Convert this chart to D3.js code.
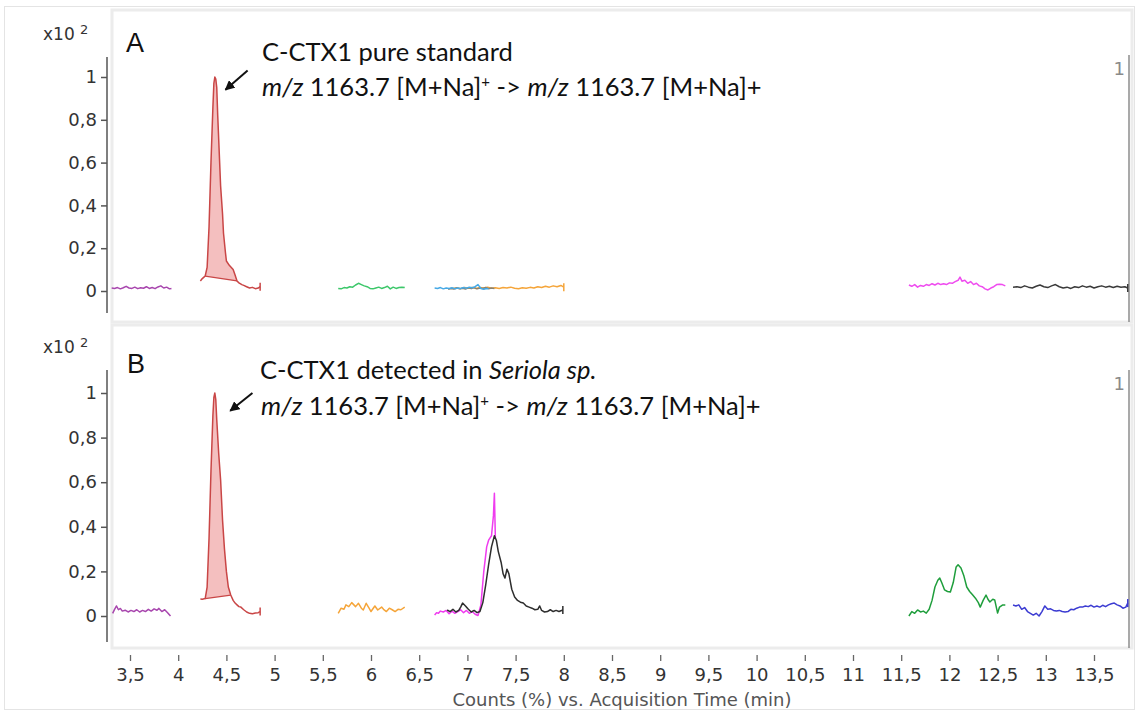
<!DOCTYPE html>
<html>
<head>
<meta charset="utf-8">
<script src="https://cdn.jsdelivr.net/npm/d3@7"></script>
<style>
	html, body { margin: 0; padding: 0; background: #fff; }
	svg { display: block; }
</style>
</head>
<body>
<svg id="chart" width="1138" height="713"></svg>
<script>
// Chromatogram traces, [retention time (min), counts (x10^2)]

// Panel A: C-CTX1 pure standard
const a_purple = [[3.31,0.014],[3.34,0.012],[3.37,0.016],[3.40,0.010],[3.43,0.015],[3.46,0.022],[3.49,0.014],[3.52,0.012],[3.55,0.018],[3.58,0.011],[3.61,0.015],[3.64,0.013],[3.67,0.020],[3.70,0.012],[3.73,0.016],[3.76,0.011],[3.79,0.019],[3.82,0.024],[3.85,0.014],[3.88,0.018],[3.91,0.010],[3.93,0.012]]
const a_red = [[4.23,0.047],[4.25,0.058],[4.27,0.066],[4.28,0.07],[4.30,0.11],[4.32,0.30],[4.34,0.60],[4.36,0.86],[4.37,0.97],[4.38,1.0],[4.39,0.99],[4.40,0.95],[4.41,0.82],[4.43,0.60],[4.44,0.49],[4.46,0.36],[4.47,0.27],[4.49,0.18],[4.50,0.14],[4.53,0.12],[4.57,0.10],[4.59,0.075],[4.61,0.047],[4.63,0.038],[4.66,0.030],[4.68,0.026],[4.71,0.020],[4.74,0.014],[4.77,0.017],[4.80,0.011],[4.83,0.014],[4.85,0.020]]
const a_green = [[5.66,0.012],[5.69,0.010],[5.72,0.016],[5.75,0.014],[5.78,0.020],[5.81,0.018],[5.84,0.028],[5.87,0.036],[5.90,0.030],[5.93,0.024],[5.96,0.020],[5.99,0.012],[6.02,0.010],[6.05,0.014],[6.08,0.018],[6.11,0.012],[6.14,0.016],[6.17,0.022],[6.20,0.010],[6.23,0.018],[6.26,0.012],[6.29,0.016],[6.32,0.018],[6.35,0.016]]
const a_orange = [[6.85,0.012],[6.89,0.015],[6.93,0.011],[6.97,0.016],[7.01,0.013],[7.05,0.017],[7.09,0.012],[7.13,0.016],[7.17,0.014],[7.21,0.018],[7.25,0.013],[7.29,0.015],[7.33,0.012],[7.37,0.016],[7.41,0.014],[7.45,0.018],[7.49,0.013],[7.53,0.011],[7.57,0.015],[7.61,0.013],[7.65,0.017],[7.69,0.014],[7.73,0.020],[7.77,0.016],[7.81,0.022],[7.85,0.018],[7.89,0.024],[7.93,0.020],[7.97,0.026],[8.0,0.018]]
const a_grey = [[6.80,0.008],[6.83,0.012],[6.86,0.009],[6.89,0.014],[6.92,0.010],[6.95,0.013],[6.98,0.009],[7.01,0.015],[7.04,0.011],[7.07,0.016],[7.10,0.010],[7.13,0.014],[7.16,0.012],[7.19,0.016],[7.22,0.011],[7.25,0.014],[7.28,0.012]]
const a_blue = [[6.66,0.014],[6.69,0.012],[6.72,0.016],[6.75,0.010],[6.78,0.014],[6.81,0.012],[6.84,0.015],[6.87,0.011],[6.90,0.014],[6.93,0.012],[6.96,0.016],[6.99,0.013],[7.02,0.018],[7.05,0.015],[7.08,0.020],[7.11,0.030],[7.14,0.012],[7.17,0.008],[7.20,0.012],[7.22,0.010]]
const a_magenta = [[11.58,0.028],[11.61,0.022],[11.64,0.030],[11.67,0.018],[11.70,0.026],[11.73,0.022],[11.76,0.030],[11.79,0.026],[11.82,0.034],[11.85,0.028],[11.88,0.036],[11.91,0.030],[11.94,0.034],[11.97,0.030],[12.00,0.038],[12.03,0.036],[12.06,0.044],[12.09,0.050],[12.11,0.065],[12.13,0.046],[12.16,0.050],[12.19,0.036],[12.22,0.044],[12.25,0.030],[12.28,0.036],[12.31,0.024],[12.34,0.020],[12.37,0.010],[12.40,0.005],[12.43,0.014],[12.46,0.020],[12.49,0.030],[12.52,0.032],[12.55,0.030],[12.58,0.024]]
const a_black = [[12.66,0.018],[12.70,0.020],[12.74,0.016],[12.78,0.024],[12.82,0.018],[12.86,0.014],[12.90,0.022],[12.94,0.028],[12.98,0.020],[13.02,0.016],[13.06,0.024],[13.10,0.030],[13.14,0.020],[13.18,0.014],[13.22,0.018],[13.26,0.012],[13.30,0.020],[13.34,0.016],[13.38,0.024],[13.42,0.018],[13.46,0.022],[13.50,0.014],[13.54,0.020],[13.58,0.024],[13.62,0.018],[13.66,0.022],[13.70,0.016],[13.74,0.022],[13.78,0.018],[13.82,0.020],[13.85,0.014]]

// Panel B: C-CTX1 detected in Seriola sp.
const b_purple = [[3.32,0.012],[3.34,0.030],[3.36,0.045],[3.38,0.028],[3.40,0.034],[3.42,0.022],[3.45,0.026],[3.48,0.018],[3.51,0.025],[3.54,0.020],[3.57,0.028],[3.60,0.018],[3.63,0.025],[3.66,0.020],[3.69,0.030],[3.72,0.022],[3.75,0.032],[3.78,0.026],[3.80,0.034],[3.83,0.020],[3.86,0.028],[3.89,0.015],[3.92,0.0]]
const b_red = [[4.23,0.076],[4.25,0.075],[4.27,0.077],[4.28,0.078],[4.30,0.13],[4.32,0.35],[4.34,0.65],[4.36,0.90],[4.37,0.98],[4.38,1.0],[4.39,0.97],[4.40,0.88],[4.42,0.73],[4.44,0.61],[4.46,0.43],[4.48,0.30],[4.50,0.20],[4.52,0.13],[4.545,0.094],[4.57,0.07],[4.59,0.058],[4.61,0.050],[4.63,0.042],[4.65,0.040],[4.68,0.028],[4.71,0.018],[4.74,0.012],[4.77,0.010],[4.80,0.013],[4.83,0.015],[4.85,0.020]]
const b_orange = [[5.66,0.012],[5.69,0.035],[5.72,0.030],[5.74,0.050],[5.77,0.042],[5.80,0.060],[5.84,0.042],[5.87,0.057],[5.90,0.035],[5.92,0.027],[5.95,0.057],[5.98,0.035],[6.00,0.020],[6.04,0.045],[6.07,0.027],[6.11,0.040],[6.13,0.030],[6.16,0.020],[6.19,0.035],[6.22,0.028],[6.25,0.020],[6.28,0.030],[6.31,0.028],[6.35,0.040]]
const b_magenta = [[6.66,0.005],[6.68,0.015],[6.70,0.012],[6.72,0.022],[6.75,0.018],[6.78,0.025],[6.81,0.010],[6.84,0.022],[6.87,0.012],[6.90,0.020],[6.93,0.028],[6.96,0.015],[6.99,0.025],[7.02,0.012],[7.05,0.020],[7.08,0.008],[7.11,0.002],[7.14,0.050],[7.17,0.20],[7.20,0.31],[7.22,0.34],[7.25,0.36],[7.27,0.45],[7.28,0.55],[7.29,0.35]]
const b_black = [[6.79,0.027],[6.82,0.020],[6.85,0.030],[6.88,0.018],[6.91,0.025],[6.93,0.040],[6.95,0.058],[6.98,0.045],[7.01,0.030],[7.04,0.018],[7.07,0.025],[7.10,0.015],[7.13,0.020],[7.16,0.060],[7.19,0.14],[7.22,0.23],[7.25,0.31],[7.28,0.36],[7.30,0.34],[7.32,0.29],[7.35,0.24],[7.37,0.19],[7.39,0.17],[7.41,0.21],[7.43,0.19],[7.46,0.12],[7.49,0.085],[7.52,0.070],[7.55,0.062],[7.58,0.058],[7.61,0.045],[7.64,0.040],[7.67,0.035],[7.70,0.028],[7.73,0.030],[7.75,0.045],[7.77,0.025],[7.80,0.018],[7.83,0.020],[7.86,0.028],[7.89,0.020],[7.92,0.025],[7.95,0.020],[7.99,0.027]]
const b_green = [[11.58,0.0],[11.61,0.020],[11.64,0.012],[11.67,0.027],[11.70,0.018],[11.73,0.022],[11.76,0.013],[11.79,0.030],[11.82,0.070],[11.85,0.13],[11.88,0.16],[11.90,0.17],[11.92,0.15],[11.95,0.117],[11.98,0.11],[12.01,0.108],[12.04,0.15],[12.07,0.22],[12.09,0.23],[12.12,0.215],[12.15,0.18],[12.18,0.13],[12.21,0.11],[12.24,0.095],[12.27,0.08],[12.30,0.06],[12.32,0.04],[12.35,0.07],[12.38,0.094],[12.40,0.075],[12.42,0.063],[12.45,0.075],[12.47,0.072],[12.50,0.013],[12.52,0.040],[12.55,0.049],[12.58,0.049]]
const b_blue = [[12.66,0.049],[12.69,0.045],[12.72,0.050],[12.75,0.030],[12.78,0.038],[12.81,0.020],[12.84,0.012],[12.87,0.004],[12.90,0.012],[12.93,0.0],[12.96,0.020],[12.99,0.045],[13.02,0.030],[13.05,0.032],[13.08,0.025],[13.11,0.022],[13.14,0.025],[13.17,0.020],[13.20,0.018],[13.23,0.020],[13.26,0.030],[13.29,0.028],[13.32,0.035],[13.35,0.040],[13.38,0.040],[13.41,0.045],[13.44,0.042],[13.47,0.048],[13.50,0.040],[13.53,0.045],[13.56,0.040],[13.59,0.048],[13.62,0.042],[13.65,0.050],[13.68,0.055],[13.71,0.058],[13.74,0.050],[13.77,0.045],[13.80,0.035],[13.83,0.040],[13.85,0.058]]

// Integration baselines drawn under the C-CTX1 peak
const a_base = [[4.28, 0.07], [4.61, 0.047]]
const b_base = [[4.28, 0.078], [4.545, 0.094]]

// Arrows pointing at the peak, [from, to] in data units
const a_arrow = [[4.72, 1.03], [4.49, 0.94]]
const b_arrow = [[4.77, 1.0], [4.54, 0.92]]

const xTicks = d3.range(3.5, 13.51, 0.5)
const yTicks = [0, 0.2, 0.4, 0.6, 0.8, 1]
const xTitle = "Counts (%) vs. Acquisition Time (min)"


const svg = d3.select("#chart")
const axisFont = "'DejaVu Sans', 'Liberation Sans', Arial, sans-serif"
const noteFont = "Lato, 'Open Sans', sans-serif"
const fmt = d3.formatLocale({ decimal: ",", thousands: ".", grouping: [3], currency: ["", ""] }).format(".2~f")

const x = d3.scaleLinear()
	.domain([3.5, 13.5])
	.range([130, 1094])

const panels = [
	{
		box: [112, 10, 1020, 312],
		y: d3.scaleLinear().domain([0, 1]).range([291, 77]),
		axis: [57, 313],
		rightLine: [55, 322],
		traces: [
			{ data: a_purple, colour: "#a846ae" },
			{ data: a_red, colour: "#c94646", endTick: true },
			{ data: a_green, colour: "#3cc76a" },
			{ data: a_orange, colour: "#f5a53a", endTick: true },
			{ data: a_grey, colour: "#8a8270" },
			{ data: a_blue, colour: "#46a9e6" },
			{ data: a_magenta, colour: "#ef4cef" },
			{ data: a_black, colour: "#3a3a3a", endTick: true },
		],
		peak: a_red,
		base: a_base,
		arrow: a_arrow,
		letter: { text: "A", x: 126, y: 52 },
		exp: 40,
		note: [
			{ x: 262, y: 61, parts: [{ t: "C-CTX1 pure standard" }] },
			{ x: 262, y: 96, parts: [{ t: "m/z", i: true }, { t: " 1163.7 [M+Na]" }, { t: "+", sup: true }, { t: " -> " }, { t: "m/z", i: true }, { t: " 1163.7 [M+Na]+" }] },
		],
		one: 75,
	},
	{
		box: [112, 325, 1020, 323],
		y: d3.scaleLinear().domain([0, 1]).range([616, 393]),
		axis: [370, 642],
		rightLine: [370, 648],
		traces: [
			{ data: b_purple, colour: "#a846ae" },
			{ data: b_red, colour: "#c94646", endTick: true },
			{ data: b_orange, colour: "#f5a53a" },
			{ data: b_magenta, colour: "#ef3cef" },
			{ data: b_black, colour: "#2e2e2e", endTick: true },
			{ data: b_green, colour: "#1f9e3c" },
			{ data: b_blue, colour: "#3c3cd2", endTick: true },
		],
		peak: b_red,
		base: b_base,
		arrow: b_arrow,
		letter: { text: "B", x: 127, y: 373 },
		exp: 353,
		note: [
			{ x: 260, y: 379, parts: [{ t: "C-CTX1 detected in " }, { t: "Seriola sp.", i: true }] },
			{ x: 261, y: 415, parts: [{ t: "m/z", i: true }, { t: " 1163.7 [M+Na]" }, { t: "+", sup: true }, { t: " -> " }, { t: "m/z", i: true }, { t: " 1163.7 [M+Na]+" }] },
		],
		one: 390,
	},
]

// Outer frame of the figure
svg.append("rect")
	.attr("x", 4.5)
	.attr("y", 6.5)
	.attr("width", 1130)
	.attr("height", 703)
	.attr("fill", "#fff")
	.attr("stroke", "#e4e4e4")

svg.append("defs")
	.append("marker")
	.attr("id", "head")
	.attr("viewBox", "0 0 10 10")
	.attr("refX", 9)
	.attr("refY", 5)
	.attr("markerWidth", 5)
	.attr("markerHeight", 5)
	.attr("orient", "auto")
	.append("path")
	.attr("d", "M0,0 L10,5 L0,10 Z")
	.attr("fill", "#111")

const line = y => d3.line()
	.x(d => x(d[0]))
	.y(d => y(d[1]))

for (let p of panels) {
	let g = svg.append("g")
	let y = p.y

	g.append("rect")
		.attr("x", p.box[0])
		.attr("y", p.box[1])
		.attr("width", p.box[2])
		.attr("height", p.box[3])
		.attr("fill", "#fff")
		.attr("stroke", "#ececec")
		.attr("stroke-width", 3)

	// Right hand frame line and its little "1" label
	g.append("line")
		.attr("x1", 1129)
		.attr("x2", 1129)
		.attr("y1", p.rightLine[0])
		.attr("y2", p.rightLine[1])
		.attr("stroke", "#8c8c8c")
		.attr("stroke-width", 1.5)
	g.append("text")
		.attr("x", 1125)
		.attr("y", p.one)
		.attr("text-anchor", "end")
		.attr("font-family", axisFont)
		.attr("font-size", 18)
		.attr("fill", "#8a8a8a")
		.text("1")

	// Y axis
	let yAxis = g.append("g")
		.attr("transform", "translate(107,0)")
		.call(d3.axisLeft(y).tickValues(yTicks).tickFormat(fmt).tickSize(6).tickPadding(4))
	yAxis.select(".domain").remove()
	yAxis.selectAll(".tick line")
		.attr("stroke", "#555")
		.attr("stroke-width", 1.5)
	yAxis.selectAll(".tick text")
		.attr("font-family", axisFont)
		.attr("font-size", 18)
		.attr("fill", "#333")
	yAxis.append("line")
		.attr("y1", p.axis[0])
		.attr("y2", p.axis[1])
		.attr("stroke", "#555")
		.attr("stroke-width", 1.5)

	let exp = g.append("text")
		.attr("x", 43)
		.attr("y", p.exp)
		.attr("font-family", axisFont)
		.attr("font-size", 17)
		.attr("fill", "#333")
	exp.append("tspan").text("x10 ")
	exp.append("tspan")
		.attr("dy", -6)
		.attr("font-size", 13)
		.text("2")

	// Integrated area under the main peak
	let [b0, b1] = p.base
	let inside = p.peak.filter(d => d[0] > b0[0] && d[0] < b1[0])
	g.append("path")
		.attr("d", line(y)([b0, ...inside, b1]) + "Z")
		.attr("fill", "#f2b4b4")
		.attr("fill-opacity", 0.85)
	g.append("path")
		.attr("d", line(y)(p.base))
		.attr("fill", "none")
		.attr("stroke", "#c94646")
		.attr("stroke-width", 1.3)

	// Traces
	for (let tr of p.traces) {
		g.append("path")
			.attr("d", line(y)(tr.data))
			.attr("fill", "none")
			.attr("stroke", tr.colour)
			.attr("stroke-width", 1.5)
			.attr("stroke-linejoin", "round")
		if (tr.endTick) {
			let last = tr.data[tr.data.length - 1]
			g.append("line")
				.attr("x1", x(last[0]))
				.attr("x2", x(last[0]))
				.attr("y1", y(last[1]) - 4)
				.attr("y2", y(last[1]) + 4)
				.attr("stroke", tr.colour)
				.attr("stroke-width", 1.5)
		}
	}

	// Annotation
	g.append("line")
		.attr("x1", x(p.arrow[0][0]))
		.attr("y1", y(p.arrow[0][1]))
		.attr("x2", x(p.arrow[1][0]))
		.attr("y2", y(p.arrow[1][1]))
		.attr("stroke", "#111")
		.attr("stroke-width", 2)
		.attr("marker-end", "url(#head)")

	g.append("text")
		.attr("x", p.letter.x)
		.attr("y", p.letter.y)
		.attr("font-family", "'Liberation Sans', Arial, sans-serif")
		.attr("font-size", 27)
		.attr("fill", "#111")
		.text(p.letter.text)

	for (let row of p.note) {
		let text = g.append("text")
			.attr("x", row.x)
			.attr("y", row.y)
			.attr("font-family", noteFont)
			.attr("font-size", 25.5)
			.attr("fill", "#111")
		let shift = 0
		for (let part of row.parts) {
			let span = text.append("tspan")
				.attr("font-style", part.i ? "italic" : "normal")
				.text(part.t)
			if (part.sup) {
				span.attr("dy", -9).attr("font-size", 15)
				shift = 9
			} else if (shift) {
				span.attr("dy", shift)
				shift = 0
			}
		}
	}
}

// Shared X axis under panel B
let xAxis = svg.append("g")
	.attr("transform", "translate(0,655)")
	.call(d3.axisBottom(x).tickValues(xTicks).tickFormat(fmt).tickSize(6).tickPadding(7))
xAxis.select(".domain").remove()
xAxis.selectAll(".tick line")
	.attr("stroke", "#666")
	.attr("stroke-width", 1.3)
xAxis.selectAll(".tick text")
	.attr("font-family", axisFont)
	.attr("font-size", 18)
	.attr("fill", "#333")

svg.append("text")
	.attr("x", 622)
	.attr("y", 706)
	.attr("text-anchor", "middle")
	.attr("font-family", axisFont)
	.attr("font-size", 18)
	.attr("fill", "#555")
	.text(xTitle)
</script>
</body>
</html>
